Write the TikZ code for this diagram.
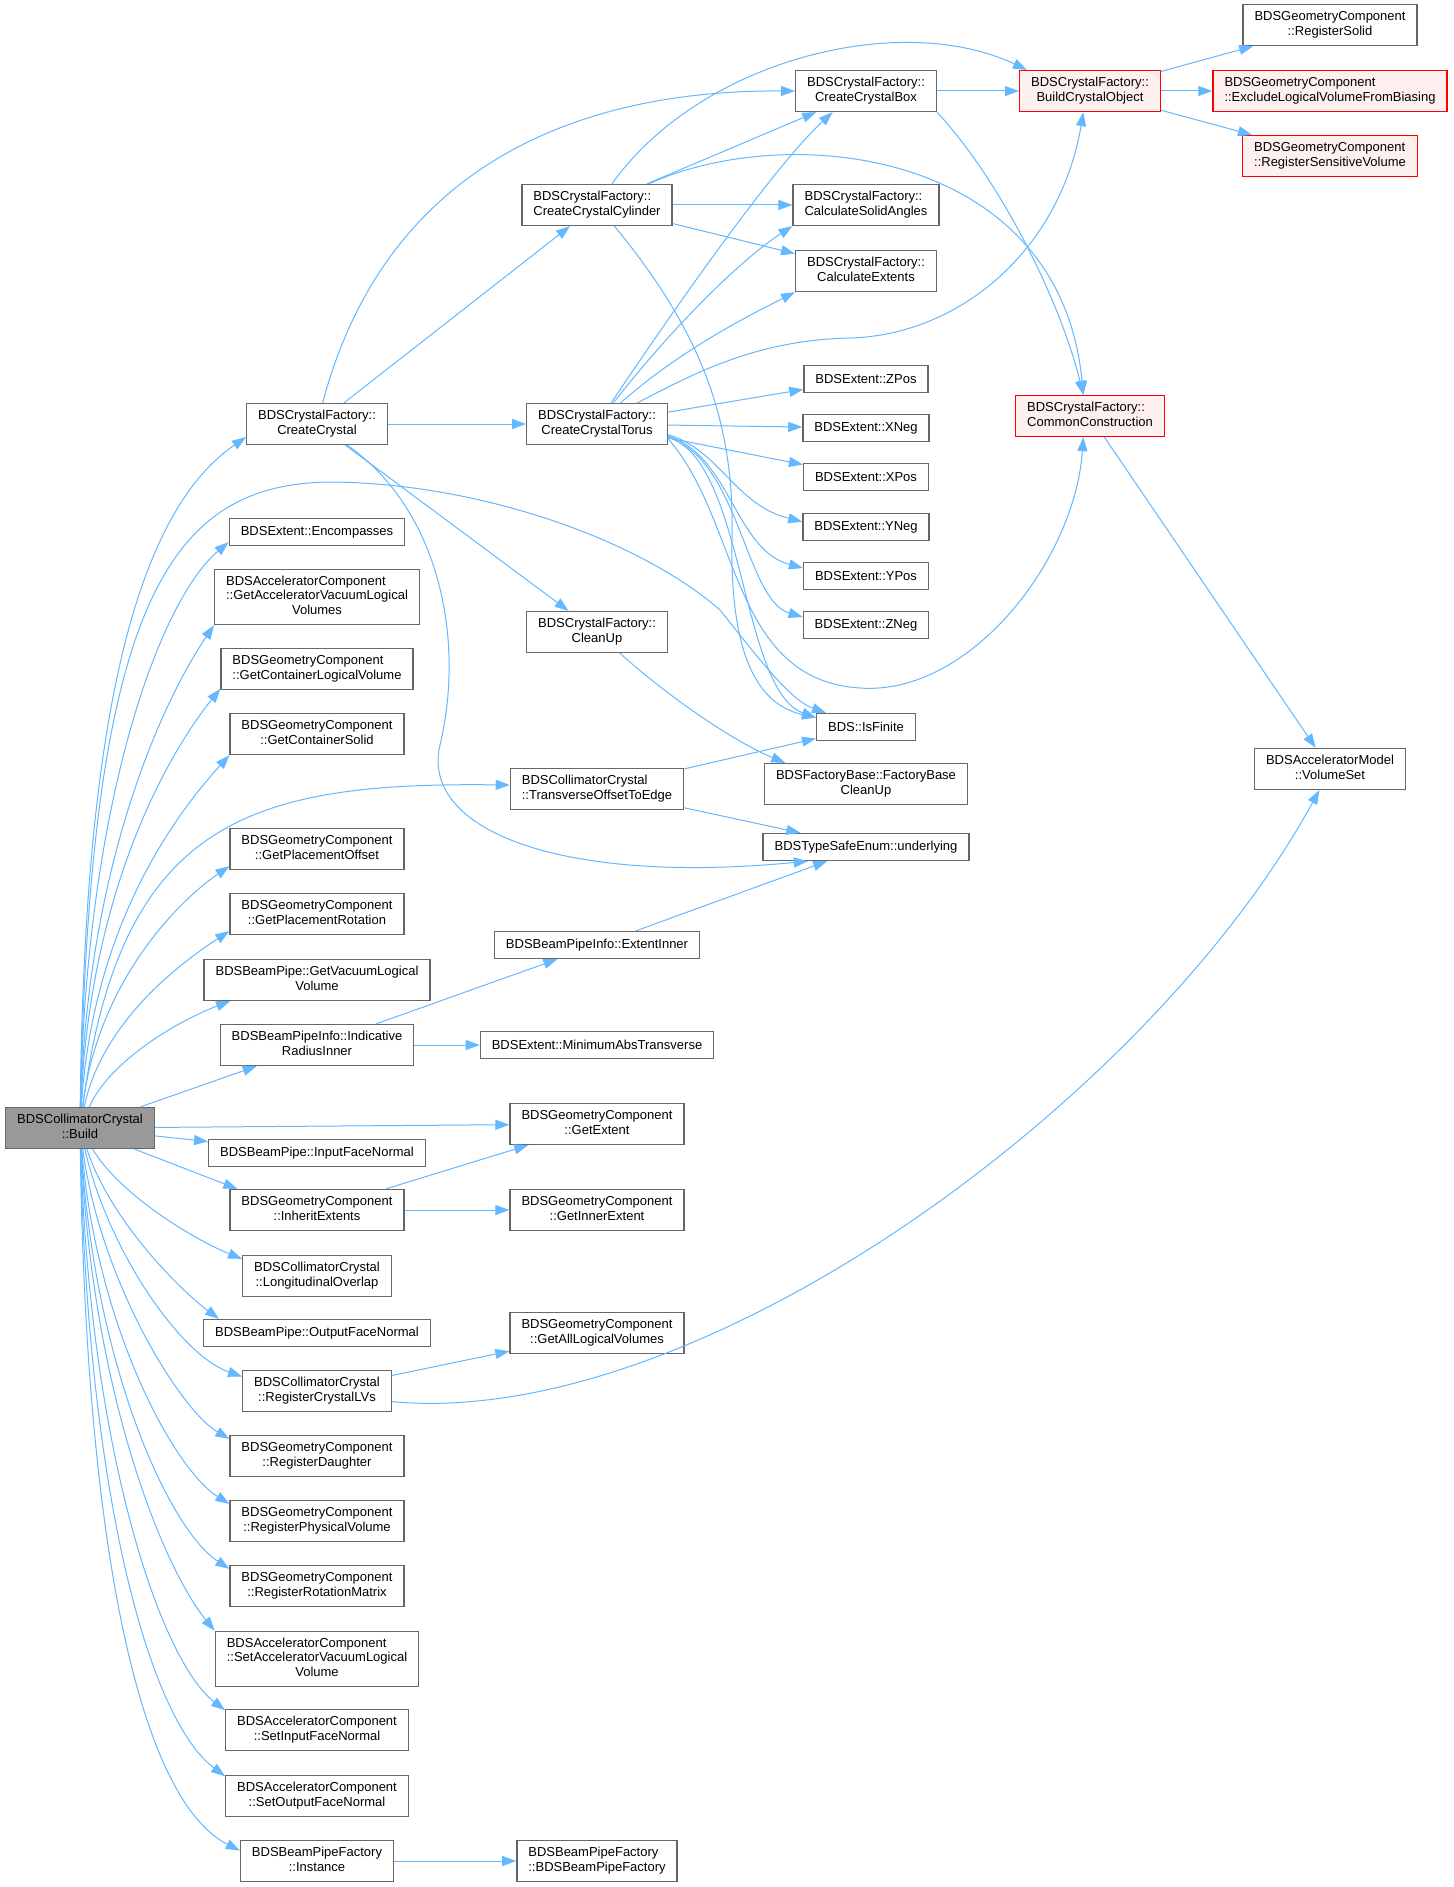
\documentclass[tikz,border=0pt]{standalone}
\usepackage{fontspec}
\setmainfont{Liberation Sans}
\usetikzlibrary{arrows.meta}
\definecolor{edgeblue}{HTML}{63B8FF}
\definecolor{boxgray}{HTML}{666666}
\definecolor{rootgray}{HTML}{999999}
\definecolor{hotfill}{HTML}{FFF0F0}
\def\twoline#1#2{\begin{tabular}{@{}l@{}}#1\\\multicolumn{1}{@{}c@{}}{#2}\end{tabular}}
\def\threeline#1#2#3{\begin{tabular}{@{}l@{}}#1\\#2\\\multicolumn{1}{@{}c@{}}{#3}\end{tabular}}

\begin{document}
\begin{tikzpicture}[x=0.75pt, y=-0.75pt,
	fn/.style={draw=boxgray, fill=white, line width=1pt, inner xsep=8.6pt, inner ysep=4.6pt, minimum height=20.25pt, font=\fontsize{9.75pt}{10.75pt}\selectfont},
	root/.style={fn, fill=rootgray},
	hot/.style={fn, draw=red, fill=hotfill},
	call/.style={draw=edgeblue, line width=0.75pt, -{Triangle[length=10.5pt,width=7.5pt]}}]
			%%%%% START %%%%%
			
			\useasboundingbox[fill=white] (0,0) rectangle (1453,1887);
			
			% caller
			\node[root] (build) at (80,1128) {\twoline{BDSCollimatorCrystal}{::Build}};
			
			% crystal factory
			\node[fn] (ccr) at (317,424) {\twoline{BDSCrystalFactory::}{CreateCrystal}};
			\node[fn] (ccyl) at (597,205) {\twoline{BDSCrystalFactory::}{CreateCrystalCylinder}};
			\node[fn] (ctor) at (597,424) {\twoline{BDSCrystalFactory::}{CreateCrystalTorus}};
			\node[fn] (cup) at (597,632) {\twoline{BDSCrystalFactory::}{CleanUp}};
			\node[fn] (ccb) at (866,91) {\twoline{BDSCrystalFactory::}{CreateCrystalBox}};
			\node[fn] (csa) at (866,205) {\twoline{BDSCrystalFactory::}{CalculateSolidAngles}};
			\node[fn] (cext) at (866,271) {\twoline{BDSCrystalFactory::}{CalculateExtents}};
			\node[hot] (bco) at (1090,91) {\twoline{BDSCrystalFactory::}{BuildCrystalObject}};
			\node[hot] (cc) at (1090,416) {\twoline{BDSCrystalFactory::}{CommonConstruction}};
			\node[fn] (rsol) at (1330,25) {\twoline{BDSGeometryComponent}{::RegisterSolid}};
			\node[hot] (exc) at (1330,91) {\twoline{BDSGeometryComponent}{::ExcludeLogicalVolumeFromBiasing}};
			\node[hot] (rsv) at (1330,156) {\twoline{BDSGeometryComponent}{::RegisterSensitiveVolume}};
			\node[fn] (vset) at (1330,769) {\twoline{BDSAcceleratorModel}{::VolumeSet}};
			
			% extents
			\node[fn] (zpos) at (866,379) {BDSExtent::ZPos};
			\node[fn] (xneg) at (866,428) {BDSExtent::XNeg};
			\node[fn] (xpos) at (866,477) {BDSExtent::XPos};
			\node[fn] (yneg) at (866,527) {BDSExtent::YNeg};
			\node[fn] (ypos) at (866,576) {BDSExtent::YPos};
			\node[fn] (zneg) at (866,625) {BDSExtent::ZNeg};
			\node[fn] (isfin) at (866,727) {BDS::IsFinite};
			\node[fn] (fbcu) at (866,784) {\twoline{BDSFactoryBase::FactoryBase}{CleanUp}};
			\node[fn] (und) at (866,847) {BDSTypeSafeEnum::underlying};
			
			% left column
			\node[fn] (enc) at (317,532) {BDSExtent::Encompasses};
			\node[fn] (gavl) at (317,597) {\threeline{BDSAcceleratorComponent}{::GetAcceleratorVacuumLogical}{Volumes}};
			\node[fn] (gclv) at (317,669) {\twoline{BDSGeometryComponent}{::GetContainerLogicalVolume}};
			\node[fn] (gcs) at (317,734) {\twoline{BDSGeometryComponent}{::GetContainerSolid}};
			\node[fn] (gpo) at (317,849) {\twoline{BDSGeometryComponent}{::GetPlacementOffset}};
			\node[fn] (gpr) at (317,914) {\twoline{BDSGeometryComponent}{::GetPlacementRotation}};
			\node[fn] (gvlv) at (317,980) {\twoline{BDSBeamPipe::GetVacuumLogical}{Volume}};
			\node[fn] (iri) at (317,1045) {\twoline{BDSBeamPipeInfo::Indicative}{RadiusInner}};
			\node[fn] (ifn) at (317,1153) {BDSBeamPipe::InputFaceNormal};
			\node[fn] (inhe) at (317,1210) {\twoline{BDSGeometryComponent}{::InheritExtents}};
			\node[fn] (lo) at (317,1276) {\twoline{BDSCollimatorCrystal}{::LongitudinalOverlap}};
			\node[fn] (ofn) at (317,1333) {BDSBeamPipe::OutputFaceNormal};
			\node[fn] (rclv) at (317,1391) {\twoline{BDSCollimatorCrystal}{::RegisterCrystalLVs}};
			\node[fn] (rdau) at (317,1456) {\twoline{BDSGeometryComponent}{::RegisterDaughter}};
			\node[fn] (rpv) at (317,1521) {\twoline{BDSGeometryComponent}{::RegisterPhysicalVolume}};
			\node[fn] (rrm) at (317,1586) {\twoline{BDSGeometryComponent}{::RegisterRotationMatrix}};
			\node[fn] (savl) at (317,1659) {\threeline{BDSAcceleratorComponent}{::SetAcceleratorVacuumLogical}{Volume}};
			\node[fn] (sifn) at (317,1730) {\twoline{BDSAcceleratorComponent}{::SetInputFaceNormal}};
			\node[fn] (sofn) at (317,1796) {\twoline{BDSAcceleratorComponent}{::SetOutputFaceNormal}};
			\node[fn] (inst) at (317,1861) {\twoline{BDSBeamPipeFactory}{::Instance}};
			
			% middle column
			\node[fn] (tote) at (597,789) {\twoline{BDSCollimatorCrystal}{::TransverseOffsetToEdge}};
			\node[fn] (ext) at (597,945) {BDSBeamPipeInfo::ExtentInner};
			\node[fn] (mat) at (597,1045) {BDSExtent::MinimumAbsTransverse};
			\node[fn] (gext) at (597,1124) {\twoline{BDSGeometryComponent}{::GetExtent}};
			\node[fn] (gie) at (597,1210) {\twoline{BDSGeometryComponent}{::GetInnerExtent}};
			\node[fn] (galv) at (597,1333) {\twoline{BDSGeometryComponent}{::GetAllLogicalVolumes}};
			\node[fn] (bpf) at (597,1861) {\twoline{BDSBeamPipeFactory}{::BDSBeamPipeFactory}};
			
			% calls from build, upwards
			\draw[call] (build) .. controls (84,760) and (125,520) .. ([yshift=6pt]ccr.south west);
			\draw[call] (build) .. controls (90,600) and (170,484) .. (330,482) .. controls (480,483) and (640,540) .. (720,610) .. controls (760,660) and (790,700) .. ([xshift=-30pt]isfin.north);
			\draw[call] (build) .. controls (86,800) and (160,600) .. ([yshift=3pt]enc.south west);
			\draw[call] (build) .. controls (88,850) and (170,690) .. (gavl.south west);
			\draw[call] (build) .. controls (90,880) and (175,745) .. ([yshift=1pt]gclv.south west);
			\draw[call] (build) .. controls (93,920) and (180,810) .. (gcs.south west);
			\draw[call] (build) .. controls (120,820) and (250,782) .. ([yshift=3pt]tote.west);
			\draw[call] (build) .. controls (98,980) and (180,900) .. ([yshift=3pt]gpo.south west);
			\draw[call] (build) .. controls (102,1020) and (185,960) .. ([yshift=3pt]gpr.south west);
			\draw[call] (build) .. controls (110,1060) and (180,1020) .. ([xshift=20pt]gvlv.south west);
			\draw[call] (build) -- (iri);
			\draw[call] (build) -- (gext);
			\draw[call] (build) -- (ifn);
			
			% calls from build, downwards
			\draw[call] (build) -- ([xshift=6pt]inhe.north west);
			\draw[call] (build) .. controls (120,1195) and (195,1240) .. ([yshift=-3pt]lo.north west);
			\draw[call] (build) .. controls (110,1220) and (180,1290) .. ([xshift=12pt]ofn.north west);
			\draw[call] (build) .. controls (108,1250) and (180,1355) .. ([yshift=-5pt]rclv.north west);
			\draw[call] (build) .. controls (100,1280) and (180,1410) .. ([yshift=-3pt]rdau.north west);
			\draw[call] (build) .. controls (97,1330) and (175,1470) .. ([yshift=-3pt]rpv.north west);
			\draw[call] (build) .. controls (95,1370) and (170,1530) .. ([yshift=-3pt]rrm.north west);
			\draw[call] (build) .. controls (93,1400) and (165,1570) .. (savl.north west);
			\draw[call] (build) .. controls (90,1450) and (160,1660) .. ([yshift=-1pt]sifn.north west);
			\draw[call] (build) .. controls (88,1500) and (150,1720) .. ([yshift=-1pt]sofn.north west);
			\draw[call] (build) .. controls (86,1550) and (140,1800) .. ([yshift=-8pt]inst.north west);
			
			% create crystal
			\draw[call] (ccr) .. controls (390,150) and (600,90) .. (ccb.west);
			\draw[call] (ccr) -- (ccyl);
			\draw[call] (ccr) -- (ctor);
			\draw[call] (ccr) -- (cup);
			\draw[call] (ccr) .. controls (440,510) and (465,640) .. (440,745) .. controls (420,830) and (560,885) .. ([xshift=34pt]und.south west);
			
			% cylinder
			\draw[call] (ccyl) .. controls (700,60) and (900,10) .. ([xshift=6pt]bco.north west);
			\draw[call] (ccyl) -- (ccb);
			\draw[call] ([xshift=-18pt]ccyl.north east) .. controls (790,120) and (1060,150) .. ([xshift=-5pt]cc.north);
			\draw[call] (ccyl) -- (csa);
			\draw[call] (ccyl) -- (cext);
			\draw[call] (ccyl) .. controls (700,330) and (735,420) .. (732,540) .. controls (730,660) and (760,705) .. ([yshift=7pt]isfin.west);
			
			% torus
			\draw[call] (ctor) .. controls (660,330) and (770,170) .. ([xshift=-25pt]ccb.south);
			\draw[call] (ctor) .. controls (670,330) and (740,260) .. (csa.south west);
			\draw[call] (ctor) .. controls (680,350) and (750,315) .. (cext.south west);
			\draw[call] (ctor) .. controls (700,370) and (760,340) .. (850,338) .. controls (960,335) and (1060,250) .. ([xshift=-5pt]bco.south);
			\draw[call] (ctor) -- (zpos);
			\draw[call] (ctor) -- (xneg);
			\draw[call] (ctor) -- (xpos);
			\draw[call] ([yshift=-8pt]ctor.east) .. controls (720,450) and (735,505) .. ([yshift=4pt]yneg.west);
			\draw[call] ([yshift=-9pt]ctor.east) .. controls (730,455) and (735,550) .. ([yshift=6pt]ypos.west);
			\draw[call] ([yshift=-10pt]ctor.east) .. controls (740,460) and (745,600) .. ([yshift=6pt]zneg.west);
			\draw[call] ([yshift=-10pt]ctor.east) .. controls (745,460) and (740,690) .. ([yshift=7pt]isfin.west);
			\draw[call] ([yshift=-11pt]ctor.east) .. controls (740,520) and (730,680) .. (860,688) .. controls (970,696) and (1075,560) .. ([xshift=-5pt]cc.south);
			
			% box and build object
			\draw[call] (ccb) -- (bco);
			\draw[call] (ccb.south east) .. controls (1000,180) and (1060,300) .. ([xshift=-5pt]cc.north);
			\draw[call] (bco) -- (rsol);
			\draw[call] (bco) -- (exc);
			\draw[call] (bco) -- (rsv);
			\draw[call] (cc) -- (vset);
			
			% the rest
			\draw[call] (cup) .. controls (660,690) and (730,740) .. ([xshift=16pt]fbcu.north west);
			\draw[call] (tote) -- (isfin);
			\draw[call] (tote) -- (und);
			\draw[call] (ext) -- (und);
			\draw[call] (iri) -- (ext);
			\draw[call] (iri) -- (mat);
			\draw[call] (inhe) -- (gext);
			\draw[call] (inhe) -- (gie);
			\draw[call] (rclv) -- (galv);
			\draw[call] ([yshift=-8pt]rclv.east) .. controls (700,1430) and (1150,1100) .. ([xshift=-8pt]vset.south);
			\draw[call] (inst) -- (bpf);
			
			%%%%% END %%%%%
\end{tikzpicture}
\end{document}
